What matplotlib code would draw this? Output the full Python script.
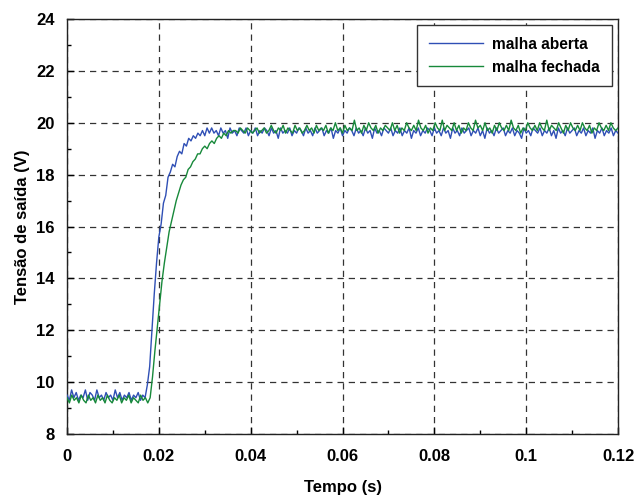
import numpy as np
import matplotlib
matplotlib.use("Agg")
import matplotlib.pyplot as plt
from matplotlib.ticker import MultipleLocator, FuncFormatter

plt.rcParams['font.family'] = ['Liberation Sans', 'DejaVu Sans']
plt.rcParams['font.weight'] = 'bold'

T_END = 0.12

# Output voltage, open loop (sampled uniformly over 0..0.12 s)
open_loop = [
    # before the step
    9.5, 9.3, 9.7, 9.4, 9.6, 9.3, 9.5, 9.4, 9.7, 9.3, 9.6, 9.5, 9.3, 9.7, 9.4, 9.5, 9.3, 9.6,
    9.4, 9.5, 9.3, 9.7, 9.4, 9.6, 9.3, 9.5, 9.4, 9.6, 9.3, 9.5, 9.4, 9.6, 9.3, 9.5, 9.4,
    # rise
    9.9, 10.6, 12.0, 13.4, 14.6, 15.6, 16.1, 16.9, 17.2, 17.9, 18.1, 18.4, 18.3, 18.7, 18.9,
    18.8, 19.2, 19.1, 19.4, 19.3, 19.5, 19.4, 19.6, 19.5, 19.7, 19.5, 19.8, 19.6, 19.8, 19.6,
    # steady state
    19.7, 19.5, 19.8, 19.6, 19.7, 19.4, 19.8, 19.6, 19.7, 19.5, 19.8, 19.7, 19.6, 19.8, 19.5, 19.7,
    19.6, 19.8, 19.5, 19.7, 19.6, 19.8, 19.7, 19.5, 19.8, 19.6, 19.7, 19.4, 19.8, 19.6, 19.7, 19.6,
    19.8, 19.5, 19.7, 19.6, 19.8, 19.7, 19.5, 19.8, 19.6, 19.7, 19.5, 19.8, 19.6, 19.7, 19.8, 19.5,
    19.7, 19.6, 19.8, 19.4, 19.7, 19.6, 19.8, 19.5, 19.7, 19.6, 19.8, 19.7, 19.5, 19.8, 19.6, 19.7,
    19.5, 19.8, 19.6, 19.7, 19.4, 19.8, 19.6, 19.7, 19.5, 19.8, 19.7, 19.6, 19.8, 19.5, 19.7, 19.6,
    19.8, 19.5, 19.7, 19.6, 19.8, 19.4, 19.7, 19.6, 19.8, 19.5, 19.7, 19.6, 19.8, 19.7, 19.5, 19.8,
    19.6, 19.7, 19.5, 19.8, 19.6, 19.7, 19.4, 19.8, 19.6, 19.7, 19.5, 19.8, 19.6, 19.7, 19.8, 19.5,
    19.7, 19.6, 19.8, 19.5, 19.7, 19.4, 19.8, 19.6, 19.7, 19.5, 19.8, 19.6, 19.7, 19.8, 19.5, 19.7,
    19.6, 19.8, 19.5, 19.7, 19.6, 19.4, 19.8, 19.6, 19.7, 19.5, 19.8, 19.7, 19.6, 19.8, 19.5, 19.7,
    19.6, 19.8, 19.5, 19.7, 19.4, 19.8, 19.6, 19.7, 19.5, 19.8, 19.6, 19.7, 19.8, 19.5, 19.7, 19.6,
    19.8, 19.5, 19.7, 19.6, 19.8, 19.4, 19.7, 19.6, 19.8, 19.5, 19.7, 19.6, 19.8, 19.5, 19.7, 19.6,
]

# Output voltage, closed loop
closed_loop = [
    # before the step
    9.4, 9.2, 9.5, 9.3, 9.4, 9.2, 9.5, 9.3, 9.2, 9.5, 9.3, 9.4, 9.2, 9.5, 9.3, 9.4, 9.2, 9.5,
    9.3, 9.2, 9.4, 9.3, 9.5, 9.2, 9.4, 9.3, 9.5, 9.2, 9.4, 9.3, 9.2, 9.5, 9.3, 9.4, 9.2, 9.4,
    # rise
    10.2, 11.2, 12.1, 13.0, 13.9, 14.6, 15.2, 15.8, 16.2, 16.6, 17.0, 17.3, 17.6, 17.8, 17.9,
    18.2, 18.3, 18.5, 18.6, 18.8, 18.8, 19.0, 19.1, 19.0, 19.2, 19.3, 19.2, 19.4, 19.5, 19.4,
    19.6, 19.5, 19.7, 19.6, 19.7,
    # steady state
    19.7, 19.6, 19.8, 19.7, 19.6, 19.8, 19.7, 19.6, 19.7, 19.8, 19.6, 19.7, 19.8, 19.6, 19.7, 19.9, 19.7,
    19.6, 19.8, 19.7, 19.9, 19.6, 19.8, 19.7, 19.6, 19.9, 19.7, 19.8, 19.6, 19.7, 19.9, 19.7, 19.8,
    19.6, 19.9, 19.7, 19.8, 19.7, 19.9, 19.6, 19.8, 19.7, 20.0, 19.7, 19.8, 19.6, 19.9, 19.7, 19.8,
    19.7, 20.1, 19.7, 19.8, 19.6, 19.9, 19.7, 20.0, 19.8, 19.7, 19.9, 19.6, 19.8, 19.7, 19.9, 19.8,
    19.7, 20.0, 19.7, 19.9, 19.6, 19.8, 19.7, 20.0, 19.8, 19.7, 19.9, 19.7, 20.1, 19.8, 19.7, 19.9,
    19.6, 19.8, 19.7, 20.0, 19.8, 19.7, 20.1, 19.7, 19.9, 19.8, 19.7, 20.0, 19.7, 19.9, 19.6, 19.8,
    19.7, 20.0, 19.8, 19.7, 20.1, 19.8, 19.9, 19.7, 20.0, 19.7, 19.8, 19.6, 19.9, 19.7, 20.0, 19.8,
    19.7, 19.9, 19.7, 20.1, 19.8, 19.7, 19.9, 19.6, 19.8, 19.7, 20.0, 19.8, 19.7, 19.9, 19.7, 20.0,
    19.8, 19.7, 20.1, 19.7, 19.9, 19.8, 19.7, 20.0, 19.8, 19.6, 19.9, 19.7, 20.0, 19.8, 19.7, 19.9,
    19.7, 20.0, 19.8, 19.7, 19.9, 19.6, 19.8, 19.7, 20.0, 19.8, 19.7, 19.9, 19.7, 20.0, 19.8, 19.7, 19.8,
]

series_labels = ['malha aberta', 'malha fechada']
series_colors = ['#2f4fb5', '#17893a']

fig = plt.figure(figsize=(6.34, 4.95), dpi=100)
ax = fig.add_axes([0.1057, 0.1232, 0.8691, 0.8384])

for values, label, color in zip([open_loop, closed_loop], series_labels, series_colors):
    t = np.linspace(0, T_END, len(values))
    ax.plot(t, values, color=color, lw=1.0, label=label, zorder=3)

ax.set_xlim(0, T_END)
ax.set_ylim(8, 24)
ax.xaxis.set_major_locator(MultipleLocator(0.02))
ax.xaxis.set_minor_locator(MultipleLocator(0.01))
ax.yaxis.set_major_locator(MultipleLocator(2))
ax.yaxis.set_minor_locator(MultipleLocator(1))
ax.xaxis.set_major_formatter(FuncFormatter(lambda v, p: '%g' % round(v, 4)))

ax.grid(True, which='major', color='#333333', linestyle=(0, (5, 4)), lw=0.9, zorder=1)
ax.tick_params(which='both', direction='in', top=False, right=False, labelsize=12, width=1)
ax.tick_params(which='major', length=5)
ax.tick_params(which='minor', length=3)
ax.tick_params(axis='x', which='major', pad=11)
ax.tick_params(axis='y', which='major', pad=9)
for lab in ax.get_xticklabels() + ax.get_yticklabels():
    lab.set_fontweight('bold')
for s in ax.spines.values():
    s.set_linewidth(1.0)
    s.set_color('#222222')

ax.set_xlabel('Tempo (s)', fontsize=12, fontweight='bold', labelpad=11)
ax.set_ylabel('Tensão de saída (V)', fontsize=12, fontweight='bold', labelpad=4)

leg = ax.legend(loc='upper right', fontsize=11.2, frameon=True, fancybox=False,
                edgecolor='#333333', framealpha=1, handlelength=3.5, handletextpad=0.6,
                borderaxespad=0.4, borderpad=0.75, labelspacing=0.5)
leg.get_frame().set_linewidth(1.0)
for txt in leg.get_texts():
    txt.set_fontweight('bold')

fig.savefig('out.png', dpi=100)
